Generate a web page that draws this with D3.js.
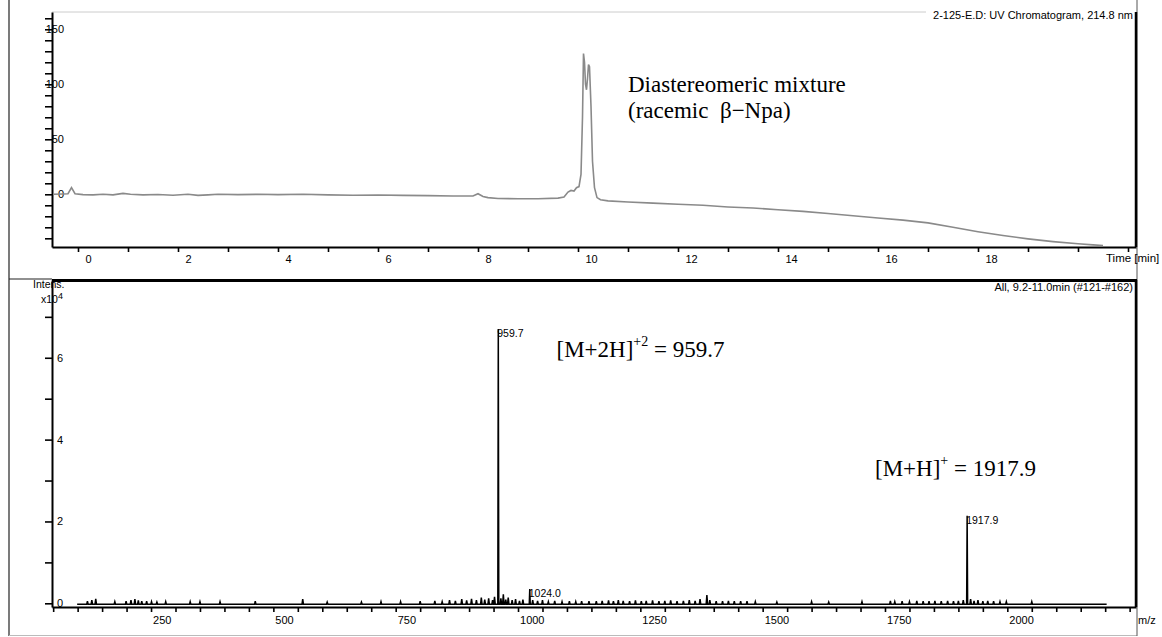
<!DOCTYPE html>
<html>
<head>
<meta charset="utf-8">
<script src="https://cdn.jsdelivr.net/npm/d3@7"></script>
<style>
  body { margin: 0; background: #fff; }
  svg { display: block; font-family: "Liberation Sans", Arial, sans-serif; }
  .tick text { font-size: 11px; fill: #000; }
  .note { font-family: "Liberation Serif", "Times New Roman", serif; fill: #000; }
</style>
</head>
<body>
<svg id="chart"></svg>
<script>
// UV chromatogram (time in min, absorbance in mAU)
const uvTime = [-0.5, -0.3, -0.2, -0.13, -0.06, 0.1, 0.3, 0.5, 0.7, 0.9, 1.05, 1.3, 1.6, 1.9, 2.2, 2.4, 2.6, 2.8, 3.2, 3.6,
  4.0, 4.5, 5.0, 5.5, 6.0, 6.5, 7.0, 7.5, 7.9, 8.0, 8.1, 8.2, 8.4, 8.8, 9.2, 9.6, 9.72, 9.8, 9.86, 9.92,
  9.97, 10.02, 10.06, 10.09, 10.11, 10.13, 10.15, 10.17, 10.19, 10.21, 10.23, 10.26, 10.29, 10.33, 10.38, 10.45, 10.6, 11, 11.5, 12,
  12.5, 13, 13.5, 14, 14.5, 15, 15.5, 16, 16.5, 17, 17.5, 18, 18.5, 19, 19.5, 20, 20.3, 20.5];
const uvSignal = [0, 0.3, 0.5, 6, 0.5, -0.3, -0.5, 0, -0.5, 0.8, 0, -0.5, -0.2, -0.8, 0, -1, -0.5, 0, -0.3, 0,
  -0.3, 0, -0.5, -0.8, -0.6, -1, -1.2, -1.5, -1.5, 0.5, -2, -3, -3.8, -4, -4, -3.5, -2.5, 2, 3.5, 3,
  6, 7, 18, 70, 128, 120, 100, 95, 105, 118, 116, 80, 30, 6, -3, -5, -6, -7, -8, -9,
  -10, -11.5, -12.5, -14, -15.5, -17.5, -19.5, -21.5, -23.5, -26, -30, -34, -37.5, -40.5, -43, -45, -46, -46.5];
const uvTickLabels = [0, 2, 4, 6, 8, 10, 12, 14, 16, 18];
const uvYLabels = [0, 50, 100, 150];

// mass spectrum: baseline range, main peaks and small noise peaks [m/z, intensity x10^4]
const msBaseline = -0.025;
const msRange = [99, 2203];
const msPeaks = [[959.7, 6.70], [1024.0, 0.35], [1917.9, 2.14]];
const msNoise = [[120, 0.05], [129, 0.08], [137, 0.11], [176, 0.04], [199, 0.05], [209, 0.08], [217, 0.1], [224, 0.07],
  [231, 0.05], [241, 0.05], [251, 0.04], [262, 0.03], [280, 0.04], [330, 0.04], [350, 0.04], [391, 0.04], [463, 0.05],
  [560, 0.1], [610, 0.03], [680, 0.03], [720, 0.04], [760, 0.04], [800, 0.05], [830, 0.06], [845, 0.04], [860, 0.08],
  [872, 0.06], [885, 0.1], [895, 0.07], [905, 0.11], [915, 0.08], [925, 0.14], [932, 0.09], [940, 0.12], [948, 0.08],
  [952, 0.16], [965, 0.12], [970, 0.22], [975, 0.09], [980, 0.14], [988, 0.08], [995, 0.1], [1003, 0.06], [1010, 0.09],
  [1030, 0.08], [1040, 0.06], [1050, 0.08], [1062, 0.04], [1075, 0.06], [1090, 0.04], [1105, 0.05], [1118, 0.04],
  [1130, 0.05], [1145, 0.05], [1160, 0.05], [1172, 0.06], [1185, 0.07], [1195, 0.05], [1205, 0.08], [1215, 0.06],
  [1228, 0.05], [1240, 0.07], [1252, 0.05], [1262, 0.06], [1275, 0.07], [1288, 0.05], [1300, 0.06], [1312, 0.07],
  [1325, 0.05], [1338, 0.06], [1350, 0.08], [1362, 0.06], [1372, 0.1], [1386, 0.2], [1392, 0.08], [1405, 0.05],
  [1418, 0.05], [1430, 0.06], [1442, 0.05], [1455, 0.05], [1468, 0.05], [1485, 0.04], [1529, 0.03], [1600, 0.04],
  [1635, 0.03], [1703, 0.04], [1761, 0.06], [1770, 0.04], [1785, 0.05], [1800, 0.04], [1815, 0.06], [1828, 0.05],
  [1840, 0.05], [1852, 0.06], [1865, 0.05], [1878, 0.06], [1890, 0.05], [1900, 0.06], [1910, 0.08], [1925, 0.1],
  [1932, 0.06], [1940, 0.08], [1950, 0.05], [1960, 0.06], [1972, 0.05], [1985, 0.04], [1998, 0.04], [2050, 0.04]];
const msTickLabels = [250, 500, 750, 1000, 1250, 1500, 1750, 2000];
const msYLabels = [0, 2, 4, 6];

document.addEventListener("DOMContentLoaded", function() {
  const width = 1162, height = 637;
  const left = 52, right = 1136;

  const svg = d3.select("#chart").attr("width", width).attr("height", height);

  // ---------- frame lines ----------
  svg.append("line").attr("x1", 9).attr("x2", 9).attr("y1", 0).attr("y2", 636)
     .attr("stroke", "#222").attr("stroke-width", 1.2);
  svg.append("line").attr("x1", 9).attr("x2", right + 1).attr("y1", 635.5).attr("y2", 635.5)
     .attr("stroke", "#bbb").attr("stroke-width", 1);
  svg.append("line").attr("x1", right + 1).attr("x2", right + 1).attr("y1", 0).attr("y2", 636)
     .attr("stroke", "#555").attr("stroke-width", 1);
  svg.append("line").attr("x1", 9).attr("x2", left).attr("y1", 279).attr("y2", 279)
     .attr("stroke", "#222").attr("stroke-width", 1.2);

  // ---------- top panel: UV chromatogram ----------
  const xT = d3.scaleLinear().domain([-0.52, 21.16]).range([left, right]);
  const yT = d3.scaleLinear().domain([-47.9, 165.7]).range([247, 12]);

  svg.append("line").attr("x1", left).attr("x2", 926).attr("y1", 12).attr("y2", 12)
     .attr("stroke", "#ccc").attr("stroke-width", 1);
  svg.append("line").attr("x1", right).attr("x2", right).attr("y1", 12).attr("y2", 247)
     .attr("stroke", "#000").attr("stroke-width", 2.5);

  const xAxisT = svg.append("g")
     .attr("transform", `translate(0, 247)`)
     .call(d3.axisBottom(xT).tickValues(d3.range(0, 22)).tickSize(5).tickSizeOuter(0)
       .tickFormat(d => uvTickLabels.includes(d) ? d : ""));
  xAxisT.selectAll(".tick text").attr("text-anchor", "start").attr("x", 7).attr("y", 8);

  const yAxisT = svg.append("g")
     .attr("transform", `translate(${left}, 0)`)
     .call(d3.axisLeft(yT).tickValues(d3.range(-40, 170, 10)).tickSize(7).tickSizeOuter(0)
       .tickFormat(d => uvYLabels.includes(d) ? d : ""));
  yAxisT.selectAll(".tick text").attr("x", 12);

  svg.append("text").attr("x", 1106).attr("y", 262).attr("font-size", 11.5).text("Time [min]");
  svg.append("text").attr("x", 1133).attr("y", 19).attr("text-anchor", "end").attr("font-size", 11)
     .text("2-125-E.D: UV Chromatogram, 214.8 nm");

  const uvLine = d3.line().x(d => xT(d[0])).y(d => yT(d[1]));
  svg.append("path")
     .datum(uvTime.map((t, i) => [t, uvSignal[i]]))
     .attr("d", uvLine)
     .attr("fill", "none").attr("stroke", "#8a8a8a").attr("stroke-width", 1.6);

  const uvNote = svg.append("text").attr("class", "note").attr("font-size", 23);
  uvNote.append("tspan").attr("x", 628).attr("y", 92).text("Diastereomeric mixture");
  uvNote.append("tspan").attr("x", 628).attr("y", 118).text("(racemic \u00a0\u03b2\u2212Npa)");

  // ---------- bottom panel: mass spectrum ----------
  const xB = d3.scaleLinear().domain([47.6, 2263]).range([left, right]);
  const yB = d3.scaleLinear().domain([-0.09, 7.9]).range([607, 280]);

  svg.append("line").attr("x1", left).attr("x2", right + 1).attr("y1", 280.5).attr("y2", 280.5)
     .attr("stroke", "#000").attr("stroke-width", 3);
  svg.append("line").attr("x1", right).attr("x2", right).attr("y1", 280).attr("y2", 607)
     .attr("stroke", "#000").attr("stroke-width", 2.5);

  const xAxisB = svg.append("g")
     .attr("transform", `translate(0, 607)`)
     .call(d3.axisBottom(xB).tickValues(d3.range(50, 2300, 50)).tickSize(5).tickSizeOuter(0)
       .tickFormat(d => msTickLabels.includes(d) ? d : ""));
  xAxisB.selectAll(".tick text").attr("text-anchor", "start").attr("x", 1.5).attr("y", 9);

  const yAxisB = svg.append("g")
     .attr("transform", `translate(${left}, 0)`)
     .call(d3.axisLeft(yB).tickValues(d3.range(0, 8, 1)).tickSize(7).tickSizeOuter(0)
       .tickFormat(d => msYLabels.includes(d) ? d : ""));
  yAxisB.selectAll(".tick text").attr("x", 11);

  svg.selectAll(".domain").attr("stroke-width", 2);
  svg.selectAll(".tick line").attr("stroke-width", 1.6);

  svg.append("text").attr("x", 1138).attr("y", 624).attr("font-size", 11).text("m/z");
  svg.append("text").attr("x", 1133).attr("y", 291).attr("text-anchor", "end").attr("font-size", 11)
     .text("All, 9.2-11.0min (#121-#162)");
  svg.append("text").attr("x", 33).attr("y", 288).attr("font-size", 10.5).text("Intens.");
  const xl = svg.append("text").attr("x", 41).attr("y", 303).attr("font-size", 10.5);
  xl.append("tspan").text("x10");
  xl.append("tspan").attr("dy", -4).attr("font-size", 9).text("4");

  // build spectrum profile from the peak lists
  const sticks = msNoise.map(d => ({mz: d[0], h: d[1], w: 1.5}))
     .concat(msPeaks.map(d => ({mz: d[0], h: d[1], w: 1.0})))
     .sort((a, b) => a.mz - b.mz);
  const profile = [[msRange[0], msBaseline]];
  sticks.forEach(s => {
    profile.push([s.mz - s.w, msBaseline], [s.mz, s.h], [s.mz + s.w, msBaseline]);
  });
  profile.push([msRange[1], msBaseline]);

  const msLine = d3.line().x(d => xB(d[0])).y(d => yB(d[1]));
  svg.append("path").datum(profile).attr("d", msLine)
     .attr("fill", "none").attr("stroke", "#000").attr("stroke-width", 1.5).attr("stroke-linejoin", "miter");

  // peak labels
  svg.selectAll(".peak-label").data(msPeaks).enter().append("text")
     .attr("class", "peak-label")
     .attr("x", d => xB(d[0]) - 1)
     .attr("y", d => yB(d[1]) + 8)
     .attr("font-size", 10.5)
     .text(d => d[0].toFixed(1));

  const n1 = svg.append("text").attr("class", "note").attr("x", 556.5).attr("y", 357).attr("font-size", 23);
  n1.append("tspan").text("[M+2H]");
  n1.append("tspan").attr("dy", -11).attr("font-size", 14).text("+2");
  n1.append("tspan").attr("dy", 11).text(" = 959.7");

  const n2 = svg.append("text").attr("class", "note").attr("x", 1036).attr("y", 476)
     .attr("text-anchor", "end").attr("font-size", 23);
  n2.append("tspan").text("[M+H]");
  n2.append("tspan").attr("dy", -11).attr("font-size", 14).text("+");
  n2.append("tspan").attr("dy", 11).text(" = 1917.9");
});
</script>
</body>
</html>
